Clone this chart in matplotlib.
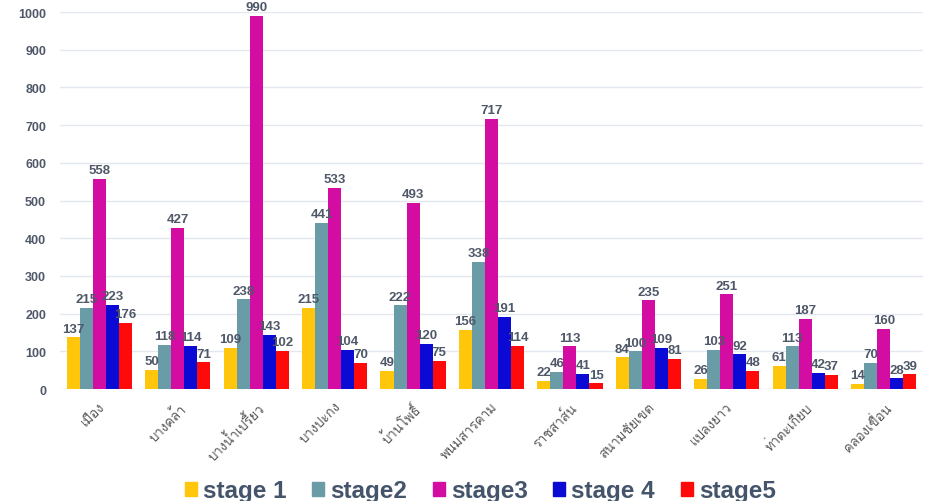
import numpy as np
import matplotlib
matplotlib.use('Agg')
import matplotlib.pyplot as plt
from matplotlib import font_manager
from matplotlib.ft2font import FT2Font
from matplotlib.patches import Patch

districts = ['เมือง', 'บางคล้า', 'บางน้ำเปรี้ยว', 'บางปะกง', 'บ้านโพธิ์', 'พนมสารคาม',
             'ราชสาส์น', 'สนามชัยเขต', 'แปลงยาว', 'ท่าตะเกียบ', 'คลองเขื่อน']
stage_names = ['stage 1', 'stage2', 'stage3', 'stage 4', 'stage5']
stage1 = [137, 50, 109, 215, 49, 156, 22, 84, 26, 61, 14]
stage2 = [215, 118, 238, 441, 222, 338, 46, 100, 103, 113, 70]
stage3 = [558, 427, 990, 533, 493, 717, 113, 235, 251, 187, 160]
stage4 = [223, 114, 143, 104, 120, 191, 41, 109, 92, 42, 28]
stage5 = [176, 71, 102, 70, 75, 114, 15, 81, 48, 37, 39]
yticks = list(range(0, 1001, 100))

colors = ['#FFC60B', '#6A9CA8', '#D30CA2', '#0A0AD4', '#FF0A0A']
TEXT = '#4F5868'

# look for any installed font that has Thai glyphs
thai_font = None
for f in font_manager.fontManager.ttflist:
    try:
        if FT2Font(f.fname).get_char_index(ord('ก')):
            thai_font = f.name
            break
    except Exception:
        pass
label_family = [thai_font, 'DejaVu Sans'] if thai_font else ['DejaVu Sans']

plt.rcParams['font.family'] = ['Liberation Sans', 'DejaVu Sans']

fig = plt.figure(figsize=(9.27, 5.02), dpi=100)
ax = fig.add_axes([0.0647, 0.223, 0.931, 0.751])

series = [stage1, stage2, stage3, stage4, stage5]
x = np.arange(len(districts))
w = 0.166
for i, (vals, col) in enumerate(zip(series, colors)):
    pos = x + (i - 2) * w
    bars = ax.bar(pos, vals, width=w, color=col, zorder=3)
    for b, v in zip(bars, vals):
        ax.annotate(str(v), (b.get_x() + b.get_width() / 2, v),
                    xytext=(0, 2), textcoords='offset points',
                    ha='center', va='bottom', fontsize=9.5, fontweight='bold',
                    color=TEXT, clip_on=False, zorder=4)

ax.set_xlim(-0.5, len(districts) - 0.5)
ax.set_ylim(0, 1000)
ax.set_yticks(yticks)
ax.set_yticklabels([str(t) for t in yticks], fontsize=9, fontweight='bold', color=TEXT)
ax.grid(axis='y', color='#E3E7EF', linewidth=1, zorder=0)
for s in ax.spines.values():
    s.set_visible(False)
ax.tick_params(axis='both', length=0)
ax.tick_params(axis='y', pad=10)

ax.set_xticks(x)
ax.set_xticklabels(districts, rotation=45, ha='right', rotation_mode='anchor',
                   fontsize=9.5, color='#595959', family=label_family)
ax.tick_params(axis='x', pad=8)

handles = [Patch(color=c) for c in colors]
fig.legend(handles, stage_names, loc='lower center', bbox_to_anchor=(0.518, -0.046),
           ncol=5, frameon=False, handlelength=0.5, handleheight=0.5,
           handletextpad=0.25, columnspacing=1.05,
           prop={'size': 17.5, 'weight': 'bold'}, labelcolor='#44546A')

fig.savefig('out.png', dpi=100)
